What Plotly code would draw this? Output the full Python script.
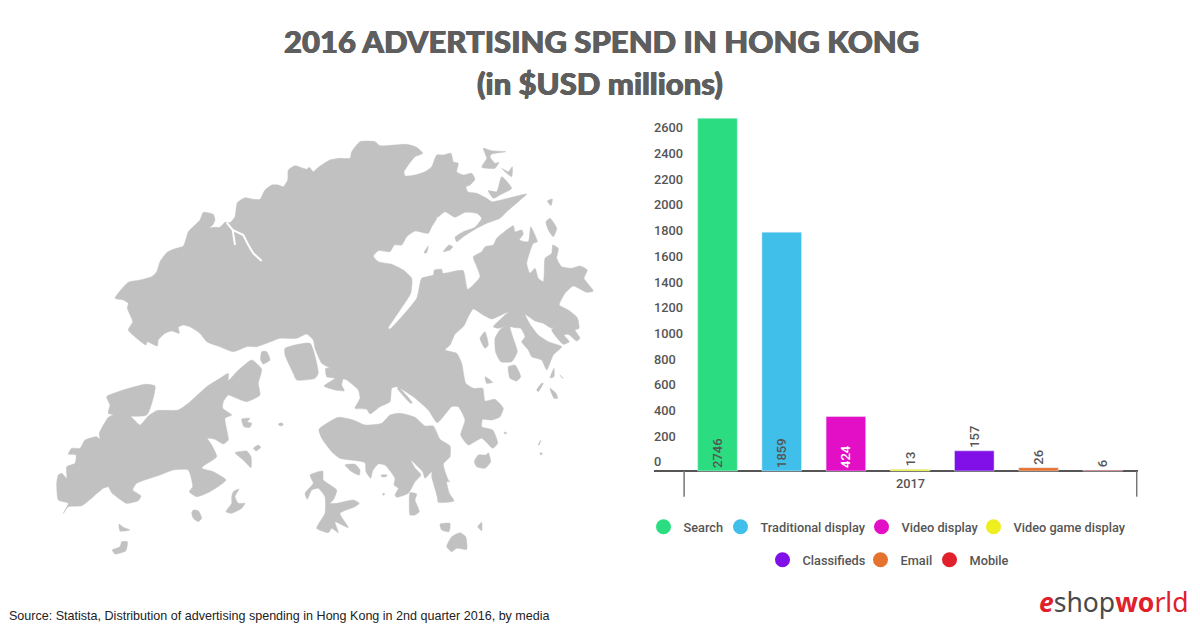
import plotly.graph_objects as go

W = 1200
H = 627

categories = ['Search', 'Traditional display', 'Video display', 'Video game display', 'Classifieds', 'Email', 'Mobile']
spend = [2746, 1859, 424, 13, 157, 26, 6]
bar_colors = ['#2bdd80', '#3fbfe9', '#e30fc6', '#eeee20', '#800fe8', '#e5722f', '#e0202a']
label_colors = ['#555555', '#555555', '#ffffff', '#555555', '#555555', '#555555', '#555555']
label_pos = ['inside', 'inside', 'inside', 'outside', 'outside', 'outside', 'outside']
y_ticks = [0, 200, 400, 600, 800, 1000, 1200, 1400, 1600, 1800, 2000, 2200, 2400, 2600]
group_label = '2017'

# where each legend entry sits on the page (left of swatch, row centre)
legend_left = [664, 741, 882, 994, 783, 881, 950]
legend_mid = [527, 527, 527, 527, 560, 560, 560]

# hong kong outline, in page pixels
mainland = [(115, 298.3), (128.3, 282.3), (140, 280), (151.7, 276.7), (156.7, 271.7), (160, 261.7), (166.7, 252.7),
            (173.3, 249.3), (183.3, 246), (186.7, 236.7), (188.3, 231.7), (195, 225), (200, 220), (203.3, 212.3),
            (213.3, 214.3), (215, 220), (212.7, 225), (209.3, 227.7), (215, 227.3), (220, 227.3), (225, 222.3),
            (230, 222.7), (235, 216.7), (237.3, 202.7), (245, 197.7), (253.3, 199.3), (260, 199.3), (265, 190),
            (271.7, 185), (278.3, 185), (283.3, 186.7), (287.7, 180), (288.3, 170), (295, 165.7), (303.3, 168.3),
            (306.7, 169.3), (309.3, 167.3), (313.3, 171.7), (318.3, 167.3), (330, 160), (340, 158.3), (350, 158.3),
            (351.7, 151.7), (360, 141.7), (375, 141.7), (380, 145.7), (406.7, 144.3), (416.7, 147.3), (422.7, 153.3),
            (415, 156.7), (408.3, 165), (404, 171.7), (405, 176), (415, 175), (425, 171.7), (431.7, 166.7),
            (436.7, 155), (443.3, 155), (451, 153.3), (453.3, 161.7), (458.3, 163.3), (456.7, 171.7), (463.3, 175),
            (471.7, 173.3), (475, 179.3), (470, 185), (466, 186.7), (467.7, 191.7), (476.7, 193.3), (486.7, 198.3),
            (491.7, 201.7), (526.7, 194), (518.3, 201.7), (506.7, 211.7), (500, 218.3), (486.7, 223.3),
            (476.7, 228.3), (463.3, 236.7), (456.7, 241.7), (455, 237.3), (463.3, 231.7), (475, 227.3),
            (481.7, 218.3), (476.7, 213.3), (465, 212.3), (455, 217.3), (445, 211.7), (437.3, 217.3), (433.3, 200.7),
            (436.7, 218.3), (431.7, 226.7), (428.3, 233.3), (415, 231), (406.7, 236.7), (401.7, 245), (394.3, 245),
            (390, 251.7), (378.3, 250.7), (373.3, 256), (378.3, 261.7), (391.7, 264.3), (403.3, 270), (411.7, 278.3),
            (410.7, 293.3), (388.3, 328.3), (390, 329), (416.7, 298.3), (421.7, 278.3), (433.3, 275), (434.3, 270),
            (441.7, 269.3), (442.7, 273.3), (456.7, 270.7), (463.3, 270.7), (467.7, 289.3), (480, 276.7), (474, 260),
            (473.3, 256.7), (481.7, 251.7), (485, 246.7), (493.3, 245), (496.7, 238.3), (513.3, 225.7), (515, 231.7),
            (521.7, 230), (523.3, 234), (519.3, 240), (528.3, 241.7), (530.7, 226.7), (537.3, 241.7), (533.3, 243.3),
            (526.7, 263.3), (530, 273.3), (535, 268.3), (538.3, 278.3), (543.3, 281.7), (544.3, 270), (545, 258.3),
            (551.7, 253.3), (552.7, 245), (558.3, 248.3), (556.7, 258.3), (561.7, 266.7), (571.7, 268.3), (580, 266),
            (587.3, 270), (584, 278.3), (593.3, 291), (586.7, 292.3), (573.3, 286), (565, 293.3), (559.3, 305),
            (568.3, 310), (577.3, 317.7), (579, 328.3), (575, 330), (580, 338.3), (576.7, 341), (568.3, 334.3),
            (564, 335), (569.3, 341.7), (563.3, 344.3), (551.7, 330), (561, 322.3), (551.7, 328.3), (543.3, 323.3),
            (535, 321), (525, 314.3), (530, 324.3), (538.3, 335), (548.3, 341.7), (561.7, 346.7), (553.3, 355),
            (546.7, 370), (541.7, 360), (531.7, 356.7), (528.3, 350), (521.7, 341.7), (525, 336.7), (520.7, 328.3),
            (515, 327.7), (510, 326.7), (512.7, 336.7), (517.3, 351.7), (511.7, 361.7), (500.7, 361.7), (495.7, 352.3),
            (495, 338.3), (500.7, 329), (505, 326.7), (498.3, 328.3), (493.3, 326.7), (500.7, 319), (508.3, 311.7),
            (491.7, 319), (483.3, 315), (473.3, 309), (468.3, 316.7), (464, 325.7), (455, 334.3), (450, 345),
            (445, 350), (456.7, 353.3), (461.7, 363.3), (465.7, 383.3), (473.3, 388.3), (482.7, 388.3), (485, 401),
            (495, 399.3), (503.3, 408.3), (500, 416.7), (491.7, 420), (482.7, 419.3), (481.7, 426.7), (492.7, 430),
            (497.7, 443.3), (492.7, 448.3), (481.7, 438.3), (468.3, 445), (460.7, 435), (465, 420), (458.3, 406.7),
            (451.7, 406.7), (437.3, 422.7), (428.3, 410), (413.3, 396.7), (396.7, 386.7), (391.7, 388.3), (390, 401.7),
            (380, 406.7), (370, 414), (366.7, 409.3), (355, 408.3), (360, 398.3), (358.3, 390), (346.7, 380),
            (343.3, 379), (341.7, 385), (344.3, 390.7), (335, 390), (324, 386), (335, 378.3), (326.7, 376.7),
            (325.7, 368.3), (330, 368.3), (321.7, 363.3), (315, 348.3), (313.3, 340), (306.7, 334), (296.7, 338.3),
            (280, 338.3), (266.7, 343.3), (256.7, 346.7), (246.7, 346.7), (233.3, 351.7), (220, 346.7), (206.7, 341.7),
            (200, 333.3), (190, 326.7), (183.3, 325), (178.3, 327.3), (179.3, 333.3), (171.7, 331), (165, 333.3),
            (158.3, 340), (157.3, 346), (147.3, 341.7), (146, 345), (128.3, 330), (132.7, 321.7), (127.3, 308.3),
            (128.3, 303.3), (123.3, 300)]
lantau = [(251.7, 360), (261.7, 369.3), (258.3, 383.3), (260, 395), (246.7, 401.7), (236.7, 398.3), (228.3, 395),
          (223.3, 401.7), (222.7, 408.3), (231.7, 415), (225, 418.3), (228.3, 440), (223.3, 444), (215, 439.3),
          (207.3, 438.3), (211.7, 445), (216.7, 456.7), (203.3, 466), (201.7, 468.3), (213.3, 471.7), (226, 480),
          (210, 491.7), (196.7, 496.7), (189.3, 491.7), (192.7, 486.7), (188.3, 470), (173.3, 470), (160, 475),
          (136.7, 483.3), (132.7, 490), (141, 496), (138.3, 500.7), (128.3, 503.3), (126, 503.3), (111.7, 492.7),
          (108.3, 486.7), (103.3, 488.3), (93.3, 496.7), (81.7, 505.7), (68.3, 506.7), (63.3, 513.3), (68.3, 503.3),
          (58.3, 500), (56.7, 483.3), (58.3, 475), (61.7, 473.3), (66.7, 478.3), (66.7, 466.7), (75, 463.3),
          (76, 455), (68.3, 454.3), (71.7, 448.3), (80, 448.3), (85, 440), (96.7, 436.7), (100, 439), (99.3, 433.3),
          (108.3, 417.3), (113.3, 415), (130, 416), (140, 425), (148.3, 416), (156.7, 410.7), (178.3, 410),
          (188.3, 403.3), (206.7, 386.7), (220, 378.3), (228.3, 373.3), (228.3, 380.7), (236.7, 371.7)]
hk_island = [(319, 429.3), (338.3, 417.3), (353.3, 420), (365, 425), (381.7, 423.3), (390, 415), (400, 413.3),
             (415, 417.3), (425, 426), (433.3, 426), (440, 439.3), (450, 446), (450, 456.7), (443.3, 464),
             (448.3, 480), (450, 481.7), (446.7, 481.7), (449.3, 493.3), (454, 501), (438.3, 502.3), (437.3, 496.7),
             (431.7, 476.7), (431.7, 471.7), (425, 478.3), (422.7, 471.7), (410.7, 460), (415, 468), (421, 475),
             (415, 481.7), (408.3, 493.3), (396.7, 497.3), (395, 495), (398.3, 488.3), (394, 485), (395, 478.3),
             (385, 465), (378.3, 464), (372.7, 470.7), (370.7, 478.3), (366, 471.7), (365, 462.7), (340, 458.3),
             (331.7, 451.7), (321.7, 438.3)]
lamma = [(310, 475), (322.7, 471), (323.3, 480), (336.7, 490), (333.3, 500), (330, 503.3), (336.7, 503.3),
         (353.3, 500), (359.3, 503.3), (355, 506.7), (340, 513.3), (348.3, 527.7), (335, 521.7), (338.3, 532.7),
         (331.7, 528.3), (328.3, 532.7), (316.7, 528.3), (325, 513.3), (325, 496.7), (318.3, 488.3), (311.7, 490),
         (307.3, 499.3), (305, 493.3), (313.3, 483.3)]
airport = [(106.7, 396.7), (145, 384.3), (155, 386), (146.7, 415), (108.3, 413.3), (110, 405)]
tsing_yi = [(285, 348.3), (310, 343.3), (318.3, 373.3), (315, 378.3), (296.7, 380), (293.3, 373.3), (285, 355)]
small_islands = [
    [(261.7, 351.7), (266.7, 351.7), (270, 360), (263.3, 364), (260.7, 360)],
    [(241.7, 419), (250, 418.3), (247.3, 421.7), (251.7, 423.3), (250, 427.3), (244, 426.7)],
    [(278.3, 424), (281.7, 422.7), (283.3, 425), (280, 426)],
    [(253.3, 448.3), (258.3, 445), (260.7, 447.3), (256, 451)],
    [(235, 452.7), (246.7, 451), (251, 456.7), (251, 467.7), (243.3, 460)],
    [(233.3, 491.7), (239, 489), (235, 496.7), (238.3, 503.3), (245, 503.3), (241.7, 508.3), (231.7, 513.3),
     (226, 511.7), (231.7, 503.3), (231.7, 496.7)],
    [(193.3, 510), (198.3, 510.7), (201.7, 518.3), (198.3, 521.7), (193.3, 518.3), (191.7, 513.3)],
    [(119, 524), (123.3, 527.3), (130, 530), (120, 531)],
    [(121.7, 541.7), (127.3, 541.7), (126, 550.7), (115, 554), (112.3, 550), (120, 546.7)],
    [(345, 465), (355, 464.3), (360, 470), (359.3, 475), (351.7, 471.7)],
    [(381, 475), (387.3, 475), (386, 476.7), (381.7, 476.7)],
    [(382.7, 493.3), (385, 494), (383.3, 495.3)],
    [(410, 492.7), (416.7, 494), (415, 500), (419.3, 511.7), (415, 515), (410, 515), (409.3, 503.3)],
    [(440, 524.3), (450, 523.3), (449, 531.7), (441.7, 530)],
    [(477.7, 526.7), (481.7, 522.3), (481.7, 530.7)],
    [(446.7, 546.7), (451.7, 536.7), (460, 532.7), (465.7, 536.7), (466.7, 549.3), (456.7, 548.3), (451.7, 551.7)],
    [(474.3, 461.7), (478.3, 455), (486, 455), (488.3, 452.7), (490.7, 461.7), (485, 468.3), (476.7, 466.7)],
    [(504, 432), (507, 433), (505, 434)],
    [(538.3, 445), (540.7, 440), (539.3, 445)],
    [(540, 452.7), (542.7, 453.3), (540.7, 455)],
    [(480, 338.3), (485, 331.7), (488.3, 345), (485, 348.3)],
    [(508.3, 366.7), (515, 365), (520.7, 376.7), (516.7, 381), (510, 378.3)],
    [(485, 376.7), (492.7, 382.3), (486.7, 383.3)],
    [(536.7, 390), (541.7, 383.3), (543.3, 383.3), (538.3, 391.7)],
    [(550, 388.3), (556, 393.3), (557.7, 398.3), (554, 398.3)],
    [(551.7, 373.3), (554, 368.3), (554, 376.7), (550, 377.7)],
    [(560, 375), (563.3, 378.3), (561, 376.7)],
    [(424, 252.7), (428.3, 246), (426.7, 252.7)],
    [(443.3, 251.7), (449, 245), (452.7, 246.7), (450, 250)],
    [(483.3, 148.3), (491.7, 150.7), (506, 151.7), (491.7, 154), (490, 156.7), (495, 163.3), (499, 162.3), (495, 168.3),
     (481.7, 167.3), (486.7, 158.3), (485, 153.3)],
    [(501.7, 168.3), (508.3, 171.7), (512.3, 166.7), (511.7, 176.7), (506.7, 173.3)],
    [(501.7, 176.7), (511.7, 188.3), (500, 195), (493.3, 198.3), (488.3, 190.7), (496.7, 191.7)],
    [(547.3, 201), (552.3, 199), (551, 205.7)],
    [(546, 221.7), (550, 218.3), (556.7, 228.3), (553.3, 236.7), (548.3, 230)],
    [(399, 387.7), (412.3, 402.7), (410.7, 403.3), (397.3, 388.3)],
]
rivers = [
    [(226.7, 222.7), (232.7, 230), (243.3, 235), (248.3, 245), (253.3, 253.3), (261.7, 261)],
    [(232.7, 230), (235, 245)],
]

fig = go.Figure()


def chain(shapes):
    xs, ys = [], []
    for s in shapes:
        xs += [p[0] for p in s] + [s[0][0], None]
        ys += [p[1] for p in s] + [s[0][1], None]
    return xs, ys


map_x, map_y = chain([mainland, lantau, hk_island, lamma, airport, tsing_yi] + small_islands)
fig.add_trace(go.Scatter(x=map_x, y=map_y, xaxis='x2', yaxis='y2', mode='lines', fill='toself',
                         fillcolor='#c1c1c1', line=dict(color='#c1c1c1', width=0.5, shape='spline', smoothing=0.5),
                         showlegend=False, hoverinfo='skip'))
river_x, river_y = [], []
for r in rivers:
    river_x += [p[0] for p in r] + [None]
    river_y += [p[1] for p in r] + [None]
fig.add_trace(go.Scatter(x=river_x, y=river_y, xaxis='x2', yaxis='y2', mode='lines',
                         line=dict(color='white', width=2), showlegend=False, hoverinfo='skip'))

fig.add_trace(go.Bar(x=categories, y=spend, width=0.617, marker_color=bar_colors,
                     text=[str(v) for v in spend], textposition=label_pos, insidetextanchor='start',
                     textangle=-90, constraintext='none', cliponaxis=False,
                     textfont=dict(family='Roboto', size=13, color=label_colors, weight=500),
                     showlegend=False))

legend_font = dict(family='Roboto', size=12.75, color='#555555', weight=500)
legends = {}
# legend-only traces, one small legend each, so the swatches are round and the two rows can be spaced by hand
for i, (name, color) in enumerate(zip(categories, bar_colors)):
    key = 'legend' if i == 0 else 'legend%d' % (i + 1)
    fig.add_trace(go.Scatter(x=[None], y=[None], mode='markers', name=name, legend=key,
                             marker=dict(color=color, size=15, symbol='circle')))
    legends[key] = dict(x=(legend_left[i] - 20.5) / W, xanchor='left', y=1 - legend_mid[i] / H, yanchor='middle',
                        font=legend_font, bgcolor='rgba(0,0,0,0)')

fig.update_layout(
    width=W, height=H, margin=dict(l=0, r=0, t=0, b=0),
    paper_bgcolor='white', plot_bgcolor='rgba(0,0,0,0)',
    showlegend=True,
    xaxis=dict(domain=[654 / W, 1138 / W], range=[-0.989, 6.55], type='category',
               categoryorder='array', categoryarray=categories, showticklabels=False, ticks='',
               showgrid=False, zeroline=False, showline=False, anchor='y'),
    yaxis=dict(domain=[(H - 480) / H, (H - 112.5) / H], range=[-70, 2790], tickvals=y_ticks,
               ticklabelposition='inside', ticklabelshift=-9, ticklabelstandoff=-3, showgrid=False,
               zeroline=True, zerolinecolor='#555555', zerolinewidth=2, showline=False,
               ticks='', tickfont=dict(family='Roboto', size=12.75, color='#555555', weight=500), anchor='x'),
    xaxis2=dict(domain=[0, 1], range=[0, W], visible=False, anchor='y2'),
    yaxis2=dict(domain=[0, 1], range=[H, 0], visible=False, anchor='x2'),
    **legends,
)

# group brackets under the axis
for edge in [-0.52, 6.53]:
    fig.add_shape(type='line', xref='x', yref='paper', x0=edge, x1=edge, y0=1 - 471 / H, y1=1 - 496.7 / H,
                  line=dict(color='#777777', width=1.5))

title_font = dict(family='Lato', size=31, color='#5e5e5e', weight=900,
                  shadow='0.5px 0 0 #5e5e5e, -0.5px 0 0 #5e5e5e')
fig.add_annotation(text='2016 ADVERTISING SPEND IN HONG KONG', xref='paper', yref='paper', x=601 / W, y=1 - 41 / H,
                   yanchor='middle', showarrow=False, font=title_font)
fig.add_annotation(text='(in $USD millions)', xref='paper', yref='paper', x=600 / W, y=1 - 83 / H,
                   yanchor='middle', showarrow=False, font=title_font)
fig.add_annotation(text=group_label, xref='x', yref='paper', x=3, y=1 - 483 / H, yanchor='middle', showarrow=False,
                   font=dict(family='Roboto', size=12.75, color='#555555', weight=500))
fig.add_annotation(text='Source: Statista, Distribution of advertising spending in Hong Kong in 2nd quarter 2016, by media',
                   xref='paper', yref='paper', x=7 / W, y=1 - 616 / H, xanchor='left', yanchor='middle',
                   showarrow=False, font=dict(family='Liberation Sans', size=12.55, color='#222222'))
fig.add_annotation(text='<span style="color:#e0202a"><b><i>e</i></b></span><span style="color:#4a4a4a">shop</span>'
                        '<span style="color:#e0202a"><b>wo</b>rld</span>',
                   xref='paper', yref='paper', x=1191 / W, y=1 - 602 / H, xanchor='right', yanchor='middle',
                   showarrow=False, font=dict(family='Noto Sans', size=26.5, color='#e0202a'))

fig.write_html("out.html", config=dict(displayModeBar=False),
               post_script="document.body.style.margin = '0';")
